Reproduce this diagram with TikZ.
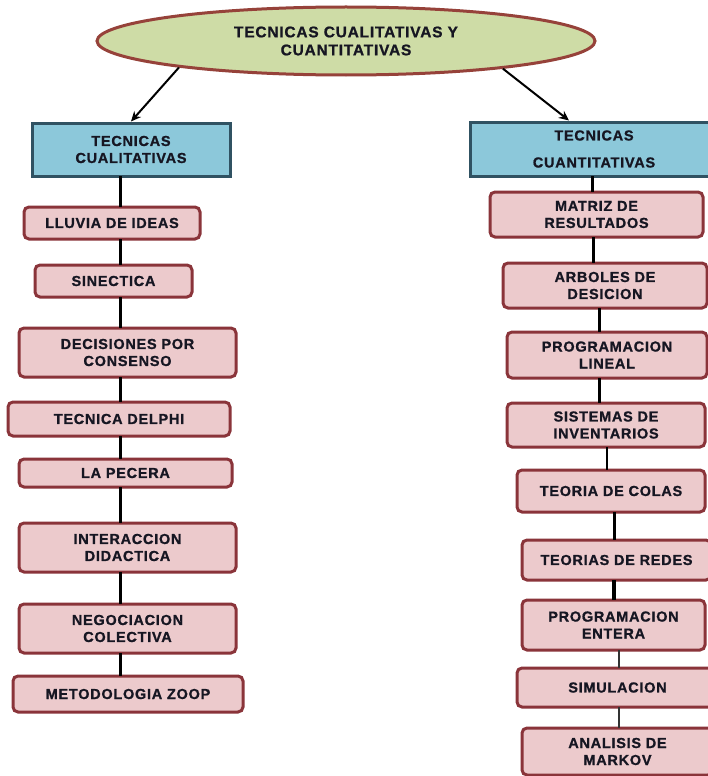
\documentclass[tikz,border=0pt]{standalone}
\usepackage{fontspec}
\setmainfont{Liberation Sans}[LetterSpace=5, BoldFeatures={FakeBold=1}]
\usetikzlibrary{shapes.geometric,arrows.meta}

\definecolor{boxfill}{RGB}{236,202,204}
\definecolor{boxedge}{RGB}{138,52,58}
\definecolor{headfill}{RGB}{140,200,218}
\definecolor{headedge}{RGB}{48,82,98}
\definecolor{ovalfill}{RGB}{206,220,166}
\definecolor{ovaledge}{RGB}{150,66,58}
\definecolor{inktext}{RGB}{22,22,34}

\tikzset{
  every node/.style={font=\fontsize{14.5}{17}\selectfont\bfseries, text=inktext, align=center, inner sep=0pt},
  itembox/.style={draw=boxedge, fill=boxfill, line width=3pt, rounded corners=5pt, rectangle},
  headbox/.style={draw=headedge, fill=headfill, line width=3pt, rectangle},
  titleoval/.style={ellipse, draw=ovaledge, fill=ovalfill, line width=3pt},
  trunk/.style={draw=black, line width=3pt},
  thintrunk/.style={draw=black!80, line width=1.5pt},
  branch/.style={draw=black, line width=2pt, -{Stealth[length=10pt,width=9pt]}}
}

\begin{document}
\begin{tikzpicture}[x=1pt,y=-1pt]
\useasboundingbox (0,0) rectangle (708,776);
\clip (0,0) rectangle (708,776);
\fill[white] (0,0) rectangle (708,776);

% title
\node[titleoval, minimum width=498, minimum height=68, font=\fontsize{15.5}{18}\selectfont\bfseries] (title) at (346,41)
  {TECNICAS CUALITATIVAS Y\\CUANTITATIVAS};

% qualitative column
\node[headbox, minimum width=198, minimum height=53] (qual) at (131,149.5)
  {TECNICAS\\CUALITATIVAS};
\node[itembox, minimum width=176, minimum height=32] (lluvia) at (112,223) {LLUVIA DE IDEAS};
\node[itembox, minimum width=157, minimum height=32] (sinectica) at (113.5,281) {SINECTICA};
\node[itembox, minimum width=217, minimum height=49] (consenso) at (127.5,352.5) {DECISIONES POR\\CONSENSO};
\node[itembox, minimum width=222, minimum height=34] (delphi) at (119,419) {TECNICA DELPHI};
\node[itembox, minimum width=213, minimum height=28] (pecera) at (125.5,473) {LA PECERA};
\node[itembox, minimum width=217, minimum height=49] (interaccion) at (127.5,547.5) {INTERACCION\\DIDACTICA};
\node[itembox, minimum width=217, minimum height=49] (negociacion) at (127.5,628.5) {NEGOCIACION\\COLECTIVA};
\node[itembox, minimum width=230, minimum height=36] (zoop) at (128,694) {METODOLOGIA ZOOP};

% quantitative column
\node[headbox, minimum width=248, minimum height=54] (quant) at (594,149)
  {TECNICAS\\[10pt]CUANTITATIVAS};
\node[itembox, minimum width=213, minimum height=45] (matriz) at (596.5,214.5) {MATRIZ DE\\RESULTADOS};
\node[itembox, minimum width=204, minimum height=45] (arboles) at (605,285.5) {ARBOLES DE\\DESICION};
\node[itembox, minimum width=200, minimum height=46] (lineal) at (607,355) {PROGRAMACION\\LINEAL};
\node[itembox, minimum width=198, minimum height=44] (inventarios) at (606,425) {SISTEMAS DE\\INVENTARIOS};
\node[itembox, minimum width=188, minimum height=42] (colas) at (611,491) {TEORIA DE COLAS};
\node[itembox, minimum width=189, minimum height=40] (redes) at (616.5,560) {TEORIAS DE REDES};
\node[itembox, minimum width=183, minimum height=50] (entera) at (613.5,625) {PROGRAMACION\\ENTERA};
\node[itembox, minimum width=201, minimum height=39] (simulacion) at (617.5,687.5) {SIMULACION};
\node[itembox, minimum width=191, minimum height=47] (markov) at (617.5,751.5) {ANALISIS DE\\MARKOV};

% arrows from the title
\draw[branch] (title.189) -- (qual.north);
\draw[branch] (title.-10.3) -- ([xshift=-25pt]quant.north);

% vertical guide positions
\coordinate (lx) at (120,0);
\coordinate (r1) at (592,0);
\coordinate (r2) at (593,0);
\coordinate (r3) at (599,0);
\coordinate (r4) at (607,0);
\coordinate (r5) at (614,0);
\coordinate (r6) at (619,0);

% qualitative trunk
\foreach \a/\b in {qual/lluvia, lluvia/sinectica, sinectica/consenso, consenso/delphi,
                   delphi/pecera, pecera/interaccion, interaccion/negociacion, negociacion/zoop}
  \draw[trunk] ([yshift=1.5pt]\a.south -| lx) -- ([yshift=-1.5pt]\b.north -| lx);

% quantitative trunk
\draw[trunk] ([yshift=1.5pt]quant.south -| r1) -- ([yshift=-1.5pt]matriz.north -| r1);
\draw[trunk] ([yshift=1.5pt]matriz.south -| r2) -- ([yshift=-1.5pt]arboles.north -| r2);
\draw[trunk] ([yshift=1.5pt]arboles.south -| r3) -- ([yshift=-1.5pt]lineal.north -| r3);
\draw[trunk] ([yshift=1.5pt]lineal.south -| r3) -- ([yshift=-1.5pt]inventarios.north -| r3);
\draw[trunk, line width=2pt] ([yshift=1.5pt]inventarios.south -| r4) -- ([yshift=-1.5pt]colas.north -| r4);
\draw[trunk] ([yshift=1.5pt]colas.south -| r5) -- ([yshift=-1.5pt]redes.north -| r5);
\draw[trunk, line width=3.5pt] ([yshift=1.5pt]redes.south -| r5) -- ([yshift=-1.5pt]entera.north -| r5);
\draw[thintrunk] ([yshift=1.5pt]entera.south -| r6) -- ([yshift=-1.5pt]simulacion.north -| r6);
\draw[thintrunk] ([yshift=1.5pt]simulacion.south -| r6) -- ([yshift=-1.5pt]markov.north -| r6);
\end{tikzpicture}
\end{document}
